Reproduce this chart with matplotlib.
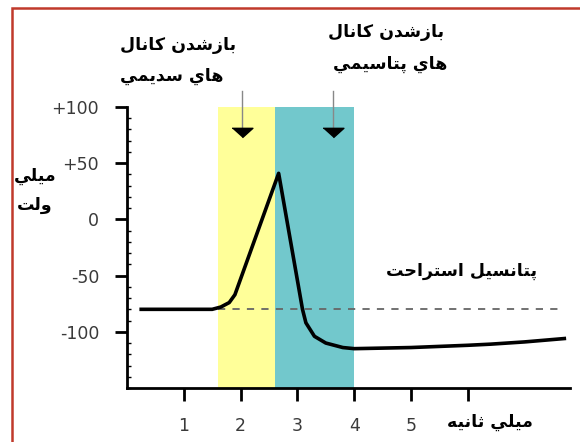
import matplotlib
matplotlib.use("Agg")
import matplotlib.pyplot as plt
from matplotlib.patches import Rectangle

# membrane potential trace (ms, mV)
t_ms = [0.25, 1.0, 1.5, 1.65, 1.8, 1.9, 2.67, 3.09, 3.15, 3.3, 3.5, 3.8, 4.0, 5.0, 6.0, 6.4, 7.0, 7.7]
v_mv = [-80, -80, -80, -78, -74, -67, 41, -80, -92, -104, -110, -114, -115, -114, -112, -111, -109, -106]

rest_mv = -80
rest_span = [1.6, 7.7]
na_span = [1.6, 2.6]
k_span = [2.6, 4.0]
arrow_x = [2.02, 3.63]

y_ticks = [100, 50, 0, -50, -100]
y_labels = ["+100", "+50", "0", "-50", "-100"]
x_ticks = [1, 2, 3, 4, 5, 6]
x_labels = ["1", "2", "3", "4", "5", ""]

na_text = ["بازشدن كانال", "هاي سديمي"]
k_text = ["بازشدن كانال", "هاي پتاسيمي"]
ylab_text = ["ميلي", "ولت"]
xlab_text = "ميلي ثانيه"
rest_text = "پتانسيل استراحت"

# matplotlib has no arabic shaping, so pick presentation forms by hand
FORMS = {
    "ا": ("\uFE8D", "\uFE8E"), "د": ("\uFEA9", "\uFEAA"), "ر": ("\uFEAD", "\uFEAE"),
    "ز": ("\uFEAF", "\uFEB0"), "و": ("\uFEED", "\uFEEE"),
    "ب": ("\uFE8F", "\uFE90", "\uFE91", "\uFE92"), "ت": ("\uFE95", "\uFE96", "\uFE97", "\uFE98"),
    "ث": ("\uFE99", "\uFE9A", "\uFE9B", "\uFE9C"), "ح": ("\uFEA1", "\uFEA2", "\uFEA3", "\uFEA4"),
    "س": ("\uFEB1", "\uFEB2", "\uFEB3", "\uFEB4"), "ش": ("\uFEB5", "\uFEB6", "\uFEB7", "\uFEB8"),
    "ك": ("\uFED9", "\uFEDA", "\uFEDB", "\uFEDC"), "ل": ("\uFEDD", "\uFEDE", "\uFEDF", "\uFEE0"),
    "م": ("\uFEE1", "\uFEE2", "\uFEE3", "\uFEE4"), "ن": ("\uFEE5", "\uFEE6", "\uFEE7", "\uFEE8"),
    "ه": ("\uFEE9", "\uFEEA", "\uFEEB", "\uFEEC"), "ي": ("\uFEF1", "\uFEF2", "\uFEF3", "\uFEF4"),
    "پ": ("\uFB56", "\uFB57", "\uFB58", "\uFB59"),
}


def shape(text):
    out = []
    for i, c in enumerate(text):
        if c not in FORMS:
            out.append(c)
            continue
        prev = text[i - 1] if i > 0 else ""
        nxt = text[i + 1] if i + 1 < len(text) else ""
        f = FORMS[c]
        jp = prev in FORMS and len(FORMS[prev]) == 4
        jn = len(f) == 4 and nxt in FORMS
        if jp and jn:
            out.append(f[3])
        elif jp:
            out.append(f[1])
        elif jn:
            out.append(f[2])
        else:
            out.append(f[0])
    return "".join(out)[::-1]


fig = plt.figure(figsize=(5.8, 4.42), dpi=100)
W, H = 580, 442
ax = fig.add_axes([127 / W, 1 - 388 / H, (570 - 127) / W, (388 - 107) / H])

ax.axvspan(*na_span, color="#ffff99", lw=0, zorder=0)
ax.axvspan(*k_span, color="#72c8cc", lw=0, zorder=0)
ax.plot(rest_span, [rest_mv, rest_mv], color="#666666", lw=1.3, ls=(0, (4, 4)), zorder=2)
ax.plot(t_ms, v_mv, color="black", lw=2.6, solid_joinstyle="round", zorder=3)

# arrows for channel opening
for xa in arrow_x:
    ax.plot([xa, xa], [114, 80], color="#888888", lw=1.0, clip_on=False, zorder=4)
    ax.plot([xa], [78], marker=[(-1, 0.4), (1, 0.4), (0, -0.5)], ms=15, color="black",
            clip_on=False, zorder=5)

ax.set_xlim(0, 7.8)
ax.set_ylim(-150, 100)
ax.spines[["top", "right"]].set_visible(False)
ax.spines[["left", "bottom"]].set_linewidth(2.0)
ax.set_yticks(y_ticks, y_labels)
ax.set_xticks(x_ticks, x_labels)
ax.set_yticks(range(-150, 101, 10), minor=True)
ax.tick_params(which="major", length=9, width=2, direction="out",
               labelsize=12.5, labelcolor="#3a3a3a")
ax.tick_params(axis="y", pad=11)
ax.tick_params(axis="x", pad=12)
ax.tick_params(which="minor", axis="y", length=3, width=1, direction="in")
for lab in ax.get_xticklabels() + ax.get_yticklabels():
    lab.set_fontfamily("DejaVu Sans")

ar = dict(family="DejaVu Sans", fontweight="bold", fontsize=12.5, ha="center", va="center")
fig.text(178 / W, 1 - 45 / H, shape(na_text[0]), **ar)
fig.text(172 / W, 1 - 76 / H, shape(na_text[1]), **ar)
fig.text(386 / W, 1 - 32 / H, shape(k_text[0]), **ar)
fig.text(390 / W, 1 - 64 / H, shape(k_text[1]), **ar)
fig.text(35 / W, 1 - 176 / H, shape(ylab_text[0]), **ar)
fig.text(35 / W, 1 - 205 / H, shape(ylab_text[1]), **ar)
fig.text(490 / W, 1 - 422 / H, shape(xlab_text), **ar)
fig.text(462 / W, 1 - 271 / H, shape(rest_text), **ar)

fig.patches.append(Rectangle((12 / W, -0.1), 1.2, 1 - 8 / H + 0.1, transform=fig.transFigure,
                             fill=False, edgecolor="#c0392b", lw=1.8))

fig.savefig("out.png", dpi=100)
